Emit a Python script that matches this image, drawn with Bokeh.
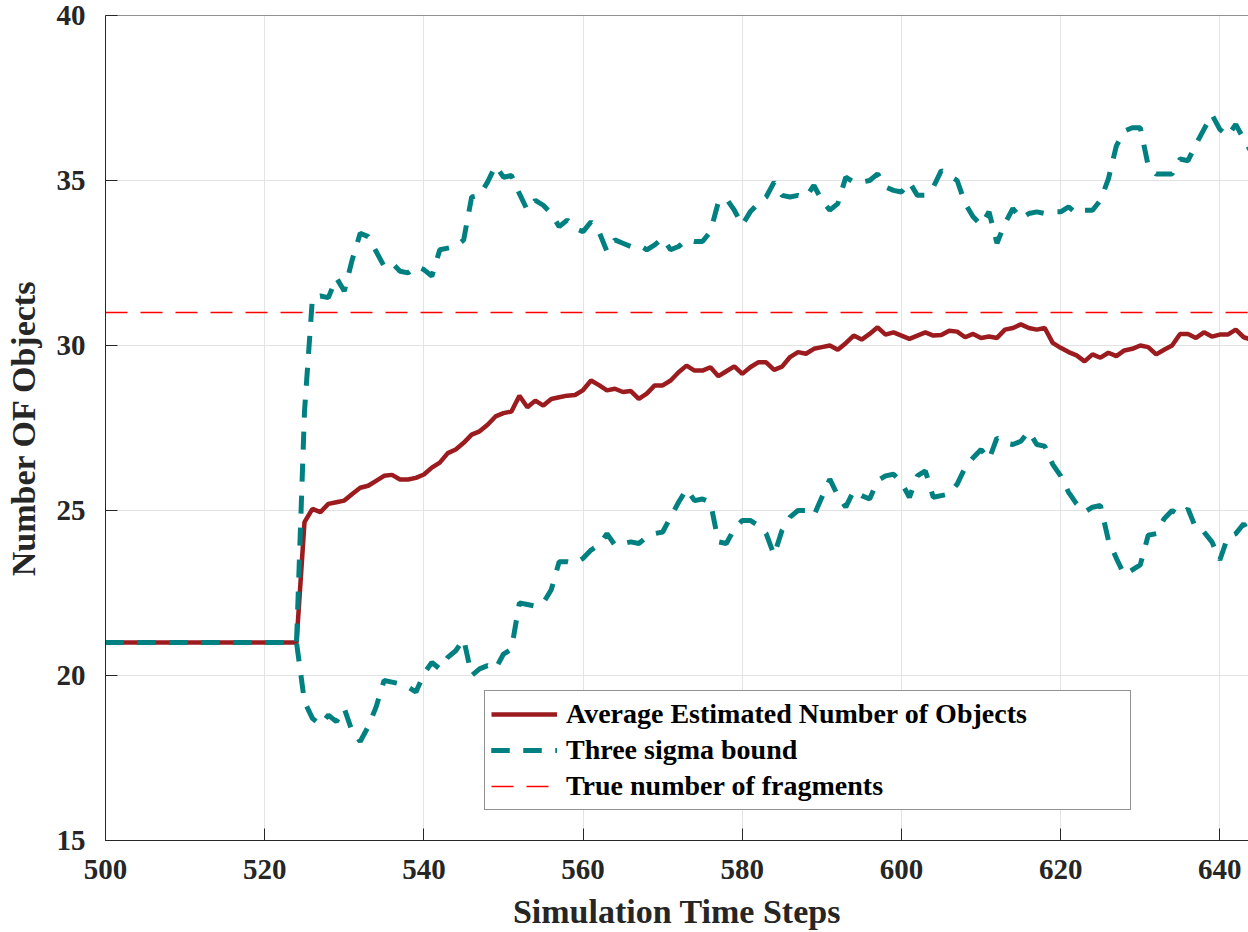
from bokeh.plotting import figure
from bokeh.models import Range1d, Legend, LegendItem, FixedTicker, Span
from bokeh.embed import file_html
from bokeh.resources import INLINE

# Simulation time steps shown on the x axis
steps = list(range(500, 645))

# Average estimated number of objects per time step
mean_est = [
    21.0, 21.0, 21.0, 21.0, 21.0, 21.0, 21.0, 21.0, 21.0, 21.0,
    21.0, 21.0, 21.0, 21.0, 21.0, 21.0, 21.0, 21.0, 21.0, 21.0,
    21.0, 21.0, 21.0, 21.0, 21.0,
    24.65, 25.05, 24.95, 25.2, 25.25, 25.3, 25.5, 25.69, 25.75, 25.9,
    26.05, 26.08, 25.94, 25.94, 25.99, 26.09, 26.3, 26.45, 26.74, 26.85,
    27.05, 27.3, 27.4, 27.6, 27.85, 27.95, 28.0, 28.48, 28.13, 28.33,
    28.18, 28.38, 28.43, 28.48, 28.5, 28.65, 28.94, 28.8, 28.64, 28.69,
    28.59, 28.62, 28.38, 28.54, 28.79, 28.79, 28.94, 29.19, 29.39, 29.24,
    29.24, 29.34, 29.07, 29.22, 29.37, 29.14, 29.34, 29.49, 29.49, 29.26,
    29.36, 29.65, 29.8, 29.75, 29.9, 29.95, 30.0, 29.87, 30.07, 30.3,
    30.18, 30.35, 30.55, 30.33, 30.4, 30.3, 30.2, 30.3, 30.4, 30.3,
    30.32, 30.45, 30.42, 30.25, 30.35, 30.23, 30.27, 30.23, 30.48, 30.53,
    30.64, 30.53, 30.48, 30.53, 30.08, 29.93, 29.8, 29.7, 29.52, 29.73,
    29.63, 29.78, 29.68, 29.85, 29.9, 30.0, 29.95, 29.73, 29.87, 30.0,
    30.35, 30.35, 30.23, 30.4, 30.27, 30.33, 30.33, 30.48, 30.25, 30.17,
]

# Upper three-sigma bound
upper_bound = [
    21.0, 21.0, 21.0, 21.0, 21.0, 21.0, 21.0, 21.0, 21.0, 21.0,
    21.0, 21.0, 21.0, 21.0, 21.0, 21.0, 21.0, 21.0, 21.0, 21.0,
    21.0, 21.0, 21.0, 21.0, 21.0,
    28.0, 31.45, 31.5, 31.45, 32.05, 31.65, 32.6, 33.4, 33.3, 32.85,
    32.4, 32.5, 32.25, 32.2, 32.4, 32.3, 32.1, 32.9, 32.95, 33.0,
    33.2, 34.5, 34.55, 34.95, 35.45, 35.1, 35.15, 34.6, 34.1, 34.4,
    34.25, 34.0, 33.6, 33.8, 33.55, 33.45, 33.75, 33.45, 32.85, 33.2,
    33.1, 33.0, 33.05, 32.9, 33.05, 33.25, 32.9, 33.0, 33.2, 33.15,
    33.15, 33.45, 34.35, 34.45, 34.1, 33.65, 34.05, 34.3, 34.5, 34.95,
    34.55, 34.5, 34.55, 34.5, 34.85, 34.4, 34.1, 34.3, 35.1, 34.95,
    34.95, 35.0, 35.2, 34.8, 34.7, 34.65, 34.95, 34.55, 34.55, 34.8,
    35.3, 35.15, 35.0, 34.3, 33.9, 33.65, 34.05, 33.1, 33.7, 34.15,
    33.85, 34.0, 34.05, 34.0, 34.05, 34.05, 34.2, 34.0, 34.1, 34.1,
    34.4, 35.05, 36.05, 36.5, 36.6, 36.6, 35.45, 35.2, 35.2, 35.2,
    35.65, 35.6, 36.1, 36.55, 37.0, 36.55, 36.35, 36.7, 36.25, 35.85,
]

# Lower three-sigma bound
lower_bound = [
    21.0, 21.0, 21.0, 21.0, 21.0, 21.0, 21.0, 21.0, 21.0, 21.0,
    21.0, 21.0, 21.0, 21.0, 21.0, 21.0, 21.0, 21.0, 21.0, 21.0,
    21.0, 21.0, 21.0, 21.0, 21.0,
    19.2, 18.7, 18.5, 18.8, 18.6, 19.0, 18.3, 18.0, 18.45, 19.05,
    19.85, 19.8, 19.75, 19.65, 19.5, 20.05, 20.4, 20.2, 20.55, 20.75,
    21.1, 20.0, 20.2, 20.3, 20.2, 20.65, 20.8, 22.2, 22.15, 22.1,
    22.2, 22.6, 23.45, 23.45, 23.4, 23.55, 23.8, 23.95, 24.3, 23.95,
    24.0, 24.05, 24.0, 24.2, 24.3, 24.35, 24.8, 25.25, 25.65, 25.3,
    25.35, 25.25, 24.05, 24.0, 24.45, 24.7, 24.7, 24.55, 24.3, 23.65,
    24.4, 24.8, 25.0, 25.0, 24.85, 25.4, 25.95, 25.45, 25.1, 25.6,
    25.45, 25.35, 25.9, 26.05, 26.1, 25.85, 25.4, 26.05, 26.2, 25.4,
    25.45, 25.5, 25.8, 26.3, 26.6, 26.85, 26.55, 27.2, 27.05, 27.0,
    27.1, 27.4, 27.0, 26.95, 26.4, 26.05, 25.55, 25.2, 24.95, 25.1,
    25.15, 24.1, 23.55, 23.05, 23.2, 23.35, 24.25, 24.3, 24.75, 25.0,
    24.85, 25.05, 24.45, 24.35, 24.05, 23.5, 24.2, 24.3, 24.6, 24.1,
]

TRUE_FRAGMENTS = 31
true_count = [TRUE_FRAGMENTS for _ in steps]

x_ticks = [500, 520, 540, 560, 580, 600, 620, 640]
y_ticks = [15, 20, 25, 30, 35, 40]

FONT = "Liberation Serif"
AXIS_COLOR = "#262626"

p = figure(
    width=1248, height=932,
    x_range=Range1d(500, 643.6), y_range=Range1d(15, 40),
    output_backend="svg", toolbar_location=None,
    min_border_left=105, min_border_right=0,
    min_border_top=15, min_border_bottom=92,
    background_fill_color="white", border_fill_color="white",
)
p.outline_line_color = None

# Axes: inward ticks, bold serif labels
for ax, ticks in ((p.xaxis[0], x_ticks), (p.yaxis[0], y_ticks)):
    ax.ticker = FixedTicker(ticks=ticks)
    ax.major_tick_in = 12
    ax.major_tick_out = 0
    ax.minor_tick_line_color = None
    ax.axis_line_color = AXIS_COLOR
    ax.major_tick_line_color = AXIS_COLOR
    ax.major_label_text_font = FONT
    ax.major_label_text_font_style = "bold"
    ax.major_label_text_font_size = "29px"
    ax.major_label_text_color = AXIS_COLOR
    ax.axis_label_text_font = FONT
    ax.axis_label_text_font_style = "bold"
    ax.axis_label_text_font_size = "34px"
    ax.axis_label_text_color = AXIS_COLOR

p.xaxis.axis_label = "Simulation Time Steps"
p.yaxis.axis_label = "Number OF Objects"
p.xaxis.major_label_standoff = 19
p.xaxis.axis_label_standoff = 11
p.yaxis.major_label_standoff = 20
p.yaxis.axis_label_standoff = 12

# Top edge of the axes box
p.add_layout(Span(location=40, dimension="width", line_color=AXIS_COLOR,
                  line_width=1))

p.xgrid.ticker = FixedTicker(ticks=x_ticks)
p.ygrid.ticker = FixedTicker(ticks=y_ticks)
p.grid.grid_line_color = "#e3e3e3"
p.grid.grid_line_width = 1

r_mean = p.line(steps, mean_est, line_color="#9b1b1e", line_width=4.5)
r_up = p.line(steps, upper_bound, line_color="#008080", line_width=5,
              line_dash="18 14")
r_lo = p.line(steps, lower_bound, line_color="#008080", line_width=5,
              line_dash="18 14")
r_true = p.line(steps, true_count, line_color="#ff0000", line_width=1.5,
                line_dash="22 13")

legend = Legend(
    items=[
        LegendItem(label="Average Estimated Number of Objects", renderers=[r_mean]),
        LegendItem(label="Three sigma bound", renderers=[r_up, r_lo]),
        LegendItem(label="True number of fragments", renderers=[r_true]),
    ],
    location=(379, 30),
    label_text_font=FONT, label_text_font_style="bold",
    label_text_font_size="28px", label_text_color="black",
    glyph_width=66, glyph_height=34, label_height=34, label_width=558,
    label_standoff=9, padding=6, spacing=2, margin=0,
    border_line_color=AXIS_COLOR, border_line_width=1,
    background_fill_color="white", background_fill_alpha=1,
)
p.add_layout(legend)

open("out.html", "w").write(file_html(p, INLINE))
